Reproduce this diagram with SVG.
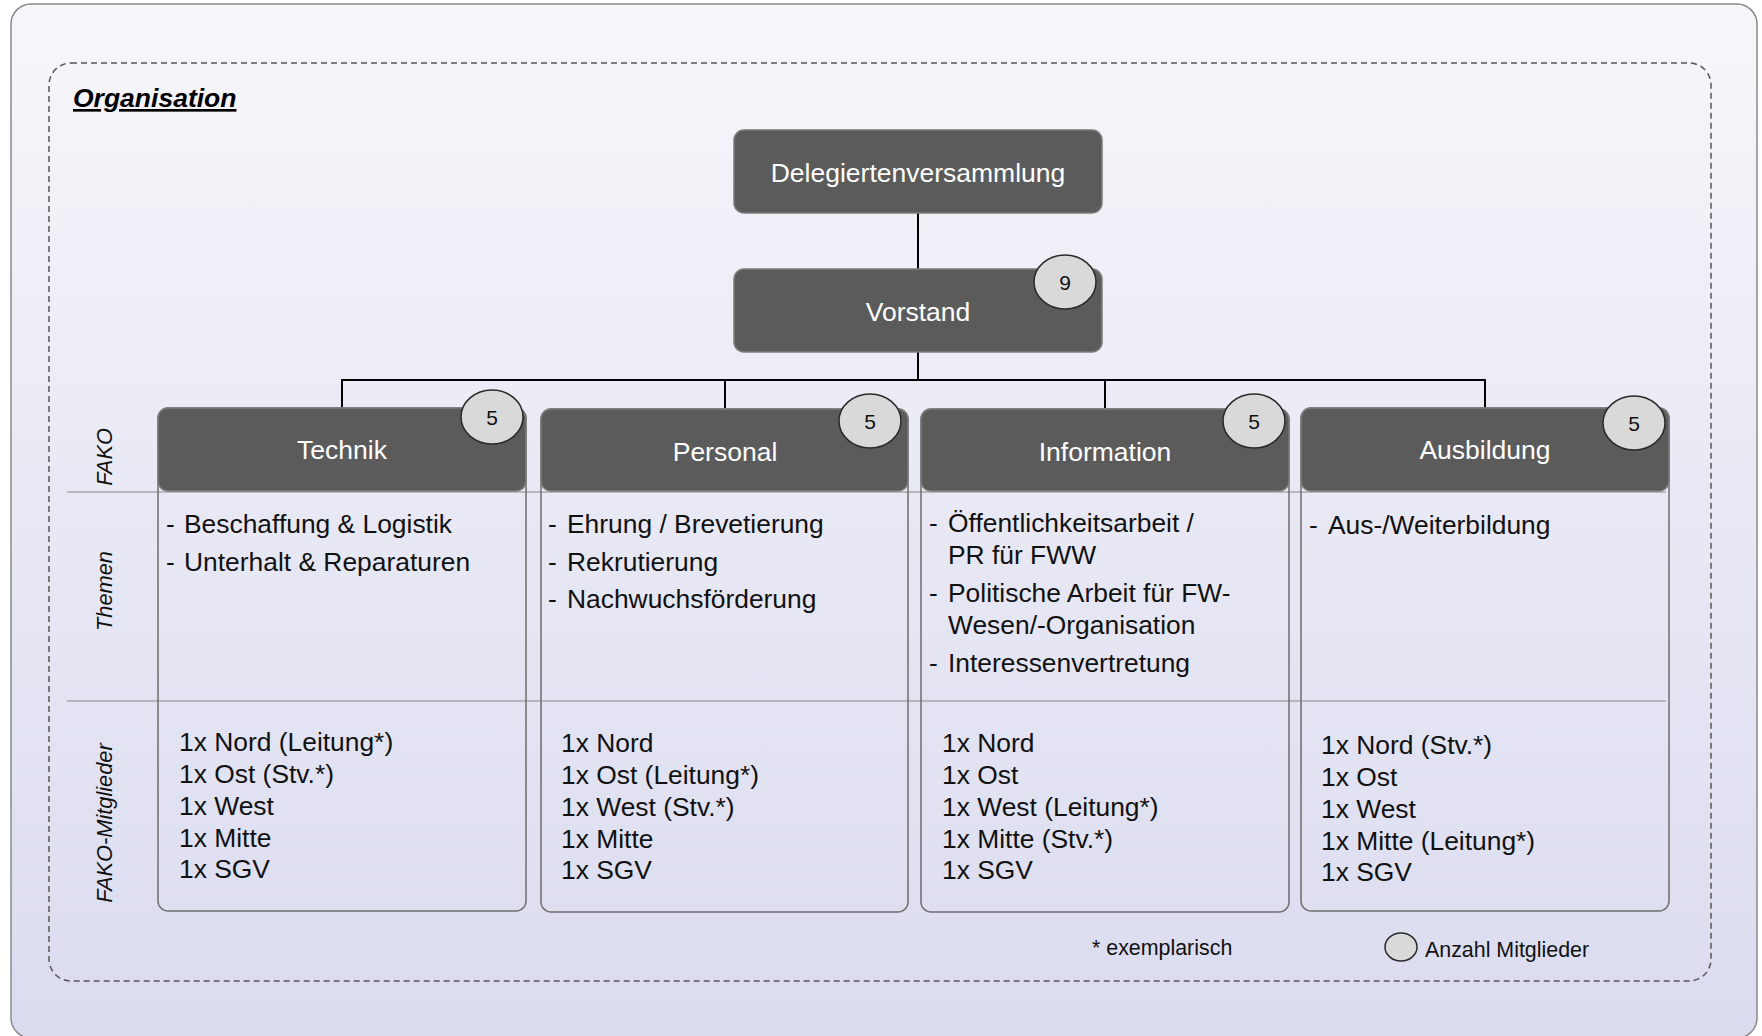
<svg xmlns="http://www.w3.org/2000/svg" width="1762" height="1036" viewBox="0 0 1762 1036">
  <defs>
    <linearGradient id="bg" x1="0" y1="0" x2="0" y2="1">
      <stop offset="0" stop-color="#f6f6fa"/>
      <stop offset="1" stop-color="#dadbef"/>
    </linearGradient>
    <style>
      text { font-family: "Liberation Sans", Arial, sans-serif; }
      .frame { fill: url(#bg); stroke: #8a8a8a; stroke-width: 1.5; }
      .dash { fill: none; stroke: #555; stroke-width: 1.5; stroke-dasharray: 6 4; }
      .title { font-size: 26.5px; font-weight: bold; font-style: italic; text-decoration: underline; fill: #000; }
      .box { fill: #5b5b5b; stroke: #7c7c7c; stroke-width: 1.5; }
      .boxlabel { font-size: 26.5px; fill: #fff; text-anchor: middle; }
      .col { fill: none; stroke: #6e6e6e; stroke-width: 1.5; }
      .sep { stroke: #a8a8a8; stroke-width: 1.5; }
      .badge { fill: #d9d9d9; stroke: #2a2a2a; stroke-width: 1.5; }
      .badgetxt { font-size: 21px; fill: #111; text-anchor: middle; }
      .row { font-size: 21.8px; font-style: italic; fill: #111; text-anchor: middle; }
      .theme { font-size: 26.4px; fill: #111; }
      .member { font-size: 26.4px; fill: #111; }
      .note { font-size: 21.4px; fill: #111; }
      .link { stroke: #000; stroke-width: 2; fill: none; }
    </style>
  </defs>

  <!-- outer frame and dashed organisation area -->
  <rect class="frame" x="11" y="4" width="1746" height="1034" rx="20"/>
  <rect class="dash" x="49" y="63" width="1662" height="918" rx="22"/>
  <text class="title" x="73" y="107">Organisation</text>

  <!-- row labels -->
  <g id="row-labels">
    <text class="row" transform="translate(112,457) rotate(-90)">FAKO</text>
    <text class="row" transform="translate(112,591) rotate(-90)">Themen</text>
    <text class="row" transform="translate(112,823) rotate(-90)">FAKO-Mitglieder</text>
  </g>

  <!-- row separators -->
  <line class="sep" x1="67" y1="492" x2="1666" y2="492"/>
  <line class="sep" x1="67" y1="701" x2="1666" y2="701"/>

  <!-- connectors -->
  <g id="connectors">
    <line class="link" x1="918" y1="213" x2="918" y2="270"/>
    <line class="link" x1="918" y1="352" x2="918" y2="380"/>
    <line class="link" x1="342" y1="380" x2="1485" y2="380"/>
    <line class="link" x1="342" y1="379" x2="342" y2="408"/>
    <line class="link" x1="725" y1="379" x2="725" y2="409"/>
    <line class="link" x1="1105" y1="379" x2="1105" y2="409"/>
    <line class="link" x1="1485" y1="379" x2="1485" y2="408"/>
  </g>

  <g id="delegiertenversammlung">
    <rect class="box" x="734" y="130" width="368" height="83" rx="10"/>
    <text class="boxlabel" x="918" y="182">Delegiertenversammlung</text>
  </g>

  <g id="vorstand">
    <rect class="box" x="734" y="269" width="368" height="83" rx="10"/>
    <text class="boxlabel" x="918" y="321">Vorstand</text>
    <ellipse class="badge" cx="1065" cy="282" rx="31" ry="27"/>
    <text class="badgetxt" x="1065" y="289.5">9</text>
  </g>

  <g id="technik">
    <rect class="col" x="158" y="408" width="368" height="503" rx="10"/>
    <rect class="box" x="158" y="408" width="368" height="83" rx="10"/>
    <text class="boxlabel" x="342" y="459">Technik</text>
    <ellipse class="badge" cx="492" cy="417" rx="31" ry="27"/>
    <text class="badgetxt" x="492" y="424.5">5</text>
    <text class="theme" x="166" y="533">-</text>
    <text class="theme" x="184" y="533">Beschaffung &amp; Logistik</text>
    <text class="theme" x="166" y="571">-</text>
    <text class="theme" x="184" y="571">Unterhalt &amp; Reparaturen</text>
    <text class="member" x="179" y="751">1x Nord (Leitung*)</text>
    <text class="member" x="179" y="783">1x Ost (Stv.*)</text>
    <text class="member" x="179" y="815">1x West</text>
    <text class="member" x="179" y="847">1x Mitte</text>
    <text class="member" x="179" y="878">1x SGV</text>
  </g>

  <g id="personal">
    <rect class="col" x="541" y="409" width="367" height="503" rx="10"/>
    <rect class="box" x="541" y="409" width="367" height="82" rx="10"/>
    <text class="boxlabel" x="725" y="461">Personal</text>
    <ellipse class="badge" cx="870" cy="421" rx="31" ry="27"/>
    <text class="badgetxt" x="870" y="428.5">5</text>
    <text class="theme" x="548" y="533">-</text>
    <text class="theme" x="567" y="533">Ehrung / Brevetierung</text>
    <text class="theme" x="548" y="571">-</text>
    <text class="theme" x="567" y="571">Rekrutierung</text>
    <text class="theme" x="548" y="608">-</text>
    <text class="theme" x="567" y="608">Nachwuchsförderung</text>
    <text class="member" x="561" y="752">1x Nord</text>
    <text class="member" x="561" y="784">1x Ost (Leitung*)</text>
    <text class="member" x="561" y="816">1x West (Stv.*)</text>
    <text class="member" x="561" y="848">1x Mitte</text>
    <text class="member" x="561" y="879">1x SGV</text>
  </g>

  <g id="information">
    <rect class="col" x="921" y="409" width="368" height="503" rx="10"/>
    <rect class="box" x="921" y="409" width="368" height="82" rx="10"/>
    <text class="boxlabel" x="1105" y="461">Information</text>
    <ellipse class="badge" cx="1254" cy="421" rx="31" ry="27"/>
    <text class="badgetxt" x="1254" y="428.5">5</text>
    <text class="theme" x="929" y="532">-</text>
    <text class="theme" x="948" y="532">Öffentlichkeitsarbeit /</text>
    <text class="theme" x="948" y="564">PR für FWW</text>
    <text class="theme" x="929" y="602">-</text>
    <text class="theme" x="948" y="602">Politische Arbeit für FW-</text>
    <text class="theme" x="948" y="634">Wesen/-Organisation</text>
    <text class="theme" x="929" y="672">-</text>
    <text class="theme" x="948" y="672">Interessenvertretung</text>
    <text class="member" x="942" y="752">1x Nord</text>
    <text class="member" x="942" y="784">1x Ost</text>
    <text class="member" x="942" y="816">1x West (Leitung*)</text>
    <text class="member" x="942" y="848">1x Mitte (Stv.*)</text>
    <text class="member" x="942" y="879">1x SGV</text>
  </g>

  <g id="ausbildung">
    <rect class="col" x="1301" y="408" width="368" height="503" rx="10"/>
    <rect class="box" x="1301" y="408" width="368" height="83" rx="10"/>
    <text class="boxlabel" x="1485" y="459">Ausbildung</text>
    <ellipse class="badge" cx="1634" cy="423" rx="31" ry="27"/>
    <text class="badgetxt" x="1634" y="430.5">5</text>
    <text class="theme" x="1309" y="534">-</text>
    <text class="theme" x="1328" y="534">Aus-/Weiterbildung</text>
    <text class="member" x="1321" y="754">1x Nord (Stv.*)</text>
    <text class="member" x="1321" y="786">1x Ost</text>
    <text class="member" x="1321" y="818">1x West</text>
    <text class="member" x="1321" y="850">1x Mitte (Leitung*)</text>
    <text class="member" x="1321" y="881">1x SGV</text>
  </g>

  <!-- legend -->
  <g id="legend">
    <text class="note" x="1092" y="955">* exemplarisch</text>
    <ellipse class="badge" cx="1401" cy="947" rx="16" ry="14"/>
    <text class="note" x="1425" y="957">Anzahl Mitglieder</text>
  </g>
</svg>
